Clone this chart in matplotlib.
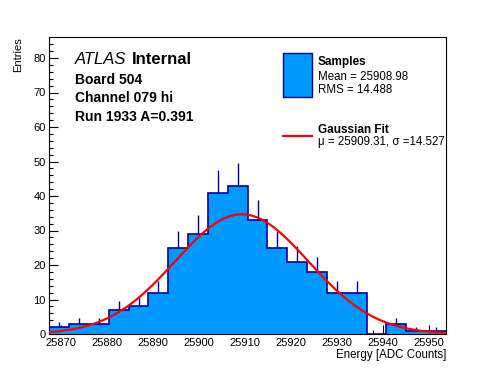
import numpy as np
import matplotlib
matplotlib.use("Agg")
from matplotlib import pyplot as plt

plt.rcParams['font.family'] = ['Liberation Sans', 'DejaVu Sans']

# histogram data
x_min = 25867.4
x_max = 25953.8
counts = [2, 3, 3, 7, 8, 12, 25, 29, 41, 43, 33, 25, 21, 18, 12, 12, 0, 3, 1, 1]

# gaussian fit (amplitude)
fit_mu = 25909.31
fit_sigma = 14.527
fit_amp = 34.7

mean_txt = "Mean = 25908.98"
rms_txt = "RMS = 14.488"
fit_txt = "\u03bc = 25909.31, \u03c3 =14.527"

fill_col = '#0099ff'
edge_col = '#000099'

fig = plt.figure(figsize=(4.96, 3.72), dpi=100)
ax = fig.add_axes([49.3 / 496, 1 - 334 / 372, 396.7 / 496, 296.7 / 372])

edges = np.linspace(x_min, x_max, len(counts) + 1)
centers = 0.5 * (edges[1:] + edges[:-1])
counts = np.array(counts, dtype=float)
err = np.sqrt(counts)

# error bars first, fill covers the lower half
ax.vlines(centers, counts - err, counts + err, color=edge_col, lw=1, zorder=1)
ax.stairs(counts, edges, fill=True, color=fill_col, zorder=2)
ax.stairs(counts, edges, color=edge_col, lw=1.2, zorder=3)

xs = np.linspace(x_min, x_max, 400)
ax.plot(xs, fit_amp * np.exp(-0.5 * ((xs - fit_mu) / fit_sigma) ** 2),
        color='#ff0000', lw=1.6, zorder=4)

ax.set_xlim(x_min, x_max)
ax.set_ylim(0, 86)
ax.set_xticks(np.arange(25870, 25951, 10))
ax.set_xticks(np.arange(25868, 25954, 2), minor=True)
ax.set_yticks(np.arange(0, 81, 10))
ax.set_yticks(np.arange(0, 86, 2), minor=True)
ax.xaxis.set_major_formatter(matplotlib.ticker.FormatStrFormatter('%d'))
ax.tick_params(which='both', direction='in', top=False, right=False, labelsize=8, width=0.8)
ax.tick_params(which='major', length=6.5)
ax.tick_params(which='minor', length=3.2)
ax.tick_params(axis='x', pad=3)
ax.tick_params(axis='y', pad=2.5)
for s in ax.spines.values():
    s.set_linewidth(0.8)

ax.set_xlabel('Energy [ADC Counts]', fontsize=8.3, loc='right')
ax.xaxis.set_label_coords(1.0, -0.05)
ax.set_ylabel('Entries', fontsize=8, loc='top')
ax.yaxis.set_label_coords(-0.066, 1.0)

# ATLAS label block
def ftext(px, py, s, **kw):
    return fig.text(px / 496, 1 - py / 372, s, va='baseline', **kw)

atl = ftext(75, 63.5, 'ATLAS ', fontsize=12, style='italic')
fig.canvas.draw()
bb = atl.get_window_extent()
ftext(bb.x1 + 1, 63.5, 'Internal', fontsize=12, weight='bold')
ftext(75, 84, 'Board 504', fontsize=10, weight='bold')
ftext(75, 102.5, 'Channel 079 hi', fontsize=10, weight='bold')
ftext(75, 121, 'Run 1933 A=0.391', fontsize=10, weight='bold')

# legend drawn by hand, ROOT style
fig.patches.append(matplotlib.patches.Rectangle((283.3 / 496, 1 - 96.7 / 372), 28.4 / 496, 43.4 / 372,
                   transform=fig.transFigure, facecolor=fill_col, edgecolor=edge_col, lw=1))
fig.lines.append(matplotlib.lines.Line2D([283.3 / 496, 311.7 / 496], [1 - 136 / 372, 1 - 136 / 372],
                 transform=fig.transFigure, color='#ff0000', lw=1.6))
ftext(317.5, 65, 'Samples', fontsize=8.5, weight='bold')
ftext(317.5, 80, mean_txt, fontsize=8.3)
ftext(317.5, 93.3, rms_txt, fontsize=8.3)
ftext(317.5, 132.7, 'Gaussian Fit', fontsize=8.5, weight='bold')
ftext(317.5, 144.5, fit_txt, fontsize=8.3)

fig.savefig('out.png', dpi=100)
